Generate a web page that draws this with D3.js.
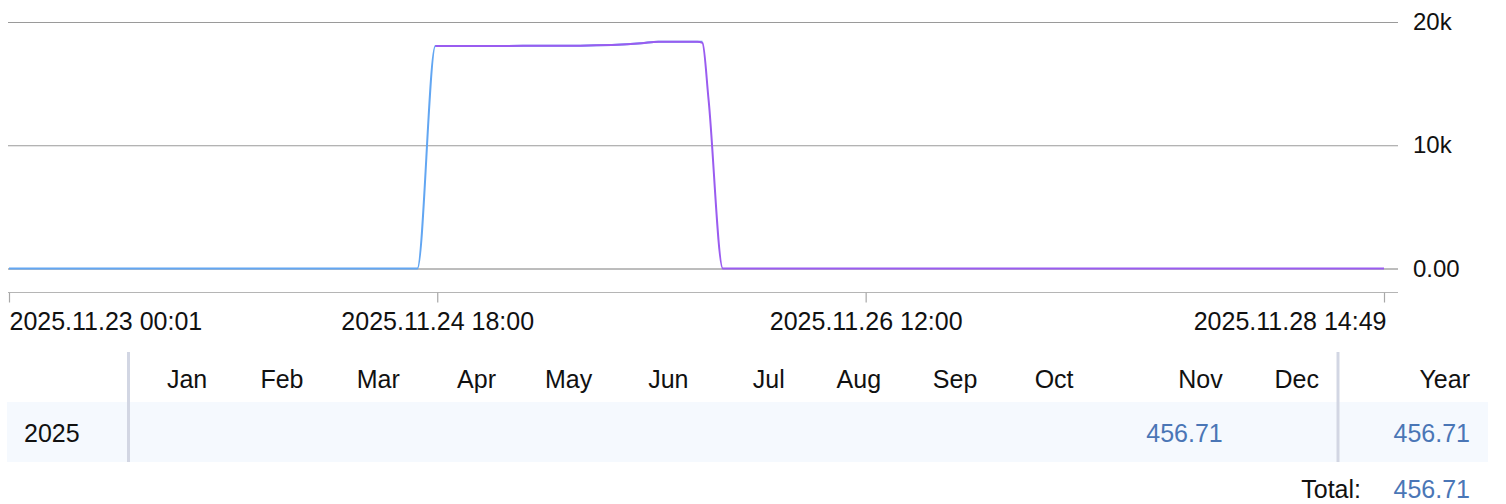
<!DOCTYPE html>
<html>
<head>
<meta charset="utf-8">
<script src="https://cdn.jsdelivr.net/npm/d3@7"></script>
<style>
  html, body { margin: 0; padding: 0; background: #fff; }
  svg { display: block; }
</style>
</head>
<body>
<svg id="chart" width="1506" height="504"></svg>
<script>
// ---------------- DATA ----------------
const seriesBlueTimes = [
  "2025-11-23 00:01", "2025-11-24 16:03", "2025-11-24 17:49", "2025-11-25 00:00",
  "2025-11-25 08:00", "2025-11-25 14:00", "2025-11-25 15:40", "2025-11-25 20:00"
];
const seriesBlueValues = [0, 0, 18050, 18060, 18080, 18270, 18400, 18400];

const seriesPurpleTimes = [
  "2025-11-24 17:49", "2025-11-25 00:00", "2025-11-25 08:00", "2025-11-25 14:00",
  "2025-11-25 15:40", "2025-11-25 19:30", "2025-11-25 20:00", "2025-11-25 20:36",
  "2025-11-25 22:00", "2025-11-28 14:49"
];
const seriesPurpleValues = [18050, 18060, 18080, 18270, 18400, 18400, 18300, 13700, 0, 0];

const xTickTimes = ["2025-11-23 00:01", "2025-11-24 18:00", "2025-11-26 12:00", "2025-11-28 14:49"];
const yTickValues = [0, 10000, 20000];
const yTickLabels = ["0.00", "10k", "20k"];

const months = ["Jan","Feb","Mar","Apr","May","Jun","Jul","Aug","Sep","Oct","Nov","Dec"];
const tableYears = ["2025"];
const monthValues2025 = [null, null, null, null, null, null, null, null, null, null, 456.71, null];
const yearTotals = [456.71];
const grandTotal = 456.71;

// ---------------- CHART ----------------
const parse = d3.timeParse("%Y-%m-%d %H:%M");
const fmt = d3.timeFormat("%Y.%m.%d %H:%M");
const svg = d3.select("#chart");

const gridLeft = 8, gridRight = 1398;
const x = d3.scaleTime()
  .domain([parse(xTickTimes[0]), parse(xTickTimes[xTickTimes.length - 1])])
  .range([9, 1384]);
const y = d3.scaleLinear().domain([0, 20000]).range([268.5, 22]);

// Y axis with grid lines
const yAxis = d3.axisRight(y)
  .tickValues(yTickValues)
  .tickFormat((d, i) => yTickLabels[i])
  .tickSize(-(gridRight - gridLeft))
  .tickPadding(15);
const gy = svg.append("g").attr("transform", `translate(${gridRight},0)`).call(yAxis);
gy.select(".domain").remove();
gy.selectAll(".tick line").attr("stroke", d => d === 0 ? "#7a7a7a" : "#9a9a9a").attr("stroke-width", 1);
gy.selectAll(".tick text")
  .attr("font-family", "'Liberation Sans', Arial, sans-serif")
  .attr("font-size", 24).attr("fill", "#111");

// X axis
const xTicks = xTickTimes.map(parse);
const xAxis = d3.axisBottom(x)
  .tickValues(xTicks)
  .tickFormat(fmt)
  .tickSize(10).tickPadding(10).tickSizeOuter(0);
const gx = svg.append("g").attr("transform", "translate(0,292.5)").call(xAxis);
gx.select(".domain").remove();
gx.insert("line", ":first-child")
  .attr("x1", gridLeft).attr("x2", gridRight).attr("y1", 0).attr("y2", 0)
  .attr("stroke", "#b5b5b5").attr("stroke-width", 1.2);
gx.selectAll(".tick line").attr("stroke", "#a8a8a8").attr("stroke-width", 1.2);
gx.selectAll(".tick text")
  .attr("font-family", "'Liberation Sans', Arial, sans-serif")
  .attr("font-size", 25).attr("fill", "#111")
  .attr("text-anchor", (d, i) => i === 0 ? "start" : (i === xTicks.length - 1 ? "end" : "middle"))
  .attr("dx", (d, i) => i === xTicks.length - 1 ? 2 : 0);

// Lines
const line = d3.line().x(d => x(d[0])).y(d => y(d[1])).curve(d3.curveMonotoneX);
const blueData = seriesBlueTimes.map((t, i) => [parse(t), seriesBlueValues[i]]);
const purpleData = seriesPurpleTimes.map((t, i) => [parse(t), seriesPurpleValues[i]]);

svg.append("path").datum(blueData).attr("d", line)
  .attr("fill", "none").attr("stroke", "#62a6f2").attr("stroke-width", 2)
  .attr("stroke-linejoin", "round");
svg.append("path").datum(purpleData).attr("d", line)
  .attr("fill", "none").attr("stroke", "#9a5cf0").attr("stroke-width", 2)
  .attr("stroke-linejoin", "round");

// ---------------- TABLE ----------------
const tFont = "'Liberation Sans Narrow', 'Liberation Sans', Arial, sans-serif";
const tSize = 25;
const tableLeft = 7, tableRight = 1488;
const monthsLeft = 130, monthsRight = 1338;
const headerBase = 388, rowTop = 402, rowBottom = 462, rowBase = 442, totalBase = 498;

// band background
svg.append("rect")
  .attr("x", tableLeft).attr("y", rowTop)
  .attr("width", tableRight - tableLeft).attr("height", rowBottom - rowTop)
  .attr("fill", "#f5f9fe");

// column layout: columns holding a value are wider
const weights = months.map((m, i) => monthValues2025[i] != null ? 1.55 : 1);
const cum = [0];
weights.forEach(w => cum.push(cum[cum.length - 1] + w));
const colX = d3.scaleLinear().domain([0, cum[cum.length - 1]]).range([monthsLeft, monthsRight]);
const pad = 19;

// header
svg.selectAll("text.mh").data(months).join("text")
  .attr("class", "mh")
  .attr("x", (d, i) => colX(cum[i + 1]) - pad)
  .attr("y", headerBase)
  .attr("text-anchor", "end")
  .attr("font-family", tFont).attr("font-size", tSize).attr("fill", "#111")
  .text(d => d);
svg.append("text").attr("x", 1470).attr("y", headerBase).attr("text-anchor", "end")
  .attr("font-family", tFont).attr("font-size", tSize).attr("fill", "#111").text("Year");

// year row
tableYears.forEach((yr, r) => {
  svg.append("text").attr("x", 24).attr("y", rowBase)
    .attr("font-family", tFont).attr("font-size", tSize).attr("fill", "#111").text(yr);
  svg.selectAll("text.mv" + r).data(monthValues2025).join("text")
    .attr("class", "mv" + r)
    .attr("x", (d, i) => colX(cum[i + 1]) - pad)
    .attr("y", rowBase)
    .attr("text-anchor", "end")
    .attr("font-family", tFont).attr("font-size", tSize).attr("fill", "#4a76b6")
    .text(d => d == null ? "" : d3.format(".2f")(d));
  svg.append("text").attr("x", 1470).attr("y", rowBase).attr("text-anchor", "end")
    .attr("font-family", tFont).attr("font-size", tSize).attr("fill", "#4a76b6")
    .text(d3.format(".2f")(yearTotals[r]));
});

// dividers
[128.5, 1338].forEach(xx => {
  svg.append("line").attr("x1", xx).attr("x2", xx).attr("y1", 352).attr("y2", rowBottom)
    .attr("stroke", "#d2d6e3").attr("stroke-width", 3);
});

// total
svg.append("text").attr("x", 1361).attr("y", totalBase).attr("text-anchor", "end")
  .attr("font-family", tFont).attr("font-size", tSize).attr("fill", "#111").text("Total:");
svg.append("text").attr("x", 1470).attr("y", totalBase).attr("text-anchor", "end")
  .attr("font-family", tFont).attr("font-size", tSize).attr("fill", "#4a76b6")
  .text(d3.format(".2f")(grandTotal));
</script>
</body>
</html>
